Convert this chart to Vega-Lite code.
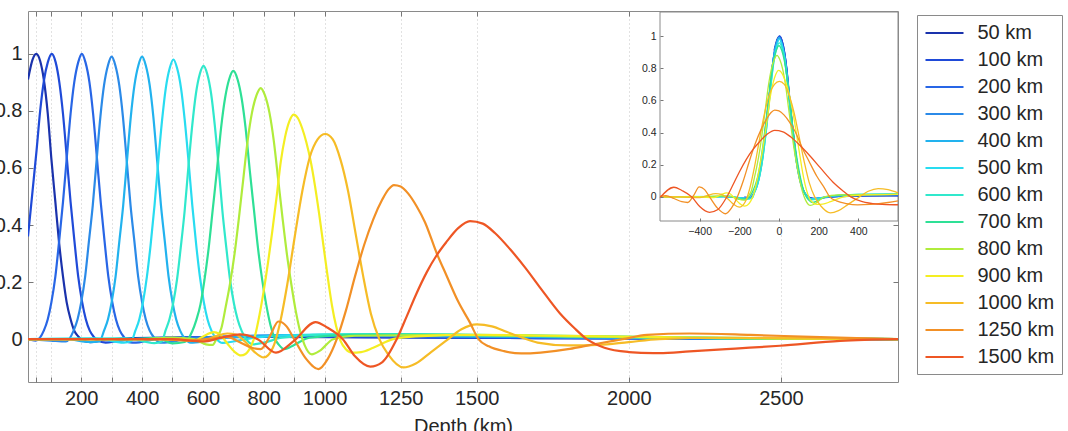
{
  "$schema": "https://vega.github.io/schema/vega-lite/v6.json",
  "width": 870,
  "height": 371,
  "autosize": {"type": "none"},
  "padding": {"left": 28, "top": 11, "right": 170, "bottom": 49},
  "background": "white",
  "config": {
    "view": {"stroke": "#8a8a8a", "strokeWidth": 1},
    "font": "Liberation Sans"
  },
  "datasets": {
    "kern": [
      {"k":"50 km","d":25,"r":-25,"v":0.91},{"k":"50 km","d":40,"r":-10,"v":0.98},{"k":"50 km","d":52,"r":2,"v":1},{"k":"50 km","d":65,"r":15,"v":0.975},{"k":"50 km","d":77,"r":27,"v":0.91},{"k":"50 km","d":90,"r":40,"v":0.79},{"k":"50 km","d":102,"r":52,"v":0.63},{"k":"50 km","d":115,"r":65,"v":0.48},{"k":"50 km","d":127,"r":77,"v":0.34},{"k":"50 km","d":140,"r":90,"v":0.22},{"k":"50 km","d":152,"r":102,"v":0.13},{"k":"50 km","d":165,"r":115,"v":0.07},{"k":"50 km","d":177,"r":127,"v":0.03},{"k":"50 km","d":190,"r":140,"v":0.01},{"k":"50 km","d":205,"r":155,"v":-0.005},{"k":"50 km","d":230,"r":180,"v":-0.01},{"k":"50 km","d":270,"r":220,"v":-0.004},{"k":"50 km","d":350,"r":300,"v":0.003},{"k":"50 km","d":500,"r":450,"v":0.006},{"k":"50 km","d":650,"r":600,"v":0.007},{"k":"50 km","d":800,"r":750,"v":0.008},{"k":"50 km","d":1200,"r":1150,"v":0.006},{"k":"50 km","d":1700,"r":1650,"v":0.004},{"k":"50 km","d":2300,"r":2250,"v":0.002},{"k":"50 km","d":2885,"r":2835,"v":0},

      {"k":"100 km","d":25,"r":-75,"v":0.36},{"k":"100 km","d":40,"r":-60,"v":0.52},{"k":"100 km","d":53,"r":-47,"v":0.66},{"k":"100 km","d":65,"r":-35,"v":0.8},{"k":"100 km","d":78,"r":-22,"v":0.91},{"k":"100 km","d":90,"r":-10,"v":0.97},{"k":"100 km","d":103,"r":3,"v":1},{"k":"100 km","d":116,"r":16,"v":0.97},{"k":"100 km","d":128,"r":28,"v":0.9},{"k":"100 km","d":140,"r":40,"v":0.79},{"k":"100 km","d":153,"r":53,"v":0.63},{"k":"100 km","d":165,"r":65,"v":0.48},{"k":"100 km","d":178,"r":78,"v":0.34},{"k":"100 km","d":190,"r":90,"v":0.22},{"k":"100 km","d":203,"r":103,"v":0.13},{"k":"100 km","d":215,"r":115,"v":0.07},{"k":"100 km","d":228,"r":128,"v":0.03},{"k":"100 km","d":240,"r":140,"v":0.01},{"k":"100 km","d":255,"r":155,"v":-0.005},{"k":"100 km","d":280,"r":180,"v":-0.012},{"k":"100 km","d":320,"r":220,"v":-0.006},{"k":"100 km","d":400,"r":300,"v":0.002},{"k":"100 km","d":550,"r":450,"v":0.006},{"k":"100 km","d":700,"r":600,"v":0.008},{"k":"100 km","d":900,"r":800,"v":0.009},{"k":"100 km","d":1200,"r":1100,"v":0.007},{"k":"100 km","d":1700,"r":1600,"v":0.004},{"k":"100 km","d":2300,"r":2200,"v":0.002},{"k":"100 km","d":2885,"r":2785,"v":0},

      {"k":"200 km","d":25,"r":-175,"v":0},{"k":"200 km","d":50,"r":-150,"v":-0.005},{"k":"200 km","d":77,"r":-123,"v":0.03},{"k":"200 km","d":90,"r":-110,"v":0.07},{"k":"200 km","d":102,"r":-98,"v":0.13},{"k":"200 km","d":115,"r":-85,"v":0.22},{"k":"200 km","d":127,"r":-73,"v":0.34},{"k":"200 km","d":140,"r":-60,"v":0.48},{"k":"200 km","d":152,"r":-48,"v":0.63},{"k":"200 km","d":165,"r":-35,"v":0.79},{"k":"200 km","d":177,"r":-23,"v":0.9},{"k":"200 km","d":190,"r":-10,"v":0.97},{"k":"200 km","d":202,"r":2,"v":1},{"k":"200 km","d":214,"r":14,"v":0.97},{"k":"200 km","d":227,"r":27,"v":0.9},{"k":"200 km","d":239,"r":39,"v":0.79},{"k":"200 km","d":252,"r":52,"v":0.63},{"k":"200 km","d":264,"r":64,"v":0.48},{"k":"200 km","d":277,"r":77,"v":0.34},{"k":"200 km","d":289,"r":89,"v":0.22},{"k":"200 km","d":302,"r":102,"v":0.13},{"k":"200 km","d":314,"r":114,"v":0.07},{"k":"200 km","d":327,"r":127,"v":0.03},{"k":"200 km","d":340,"r":140,"v":0.008},{"k":"200 km","d":355,"r":155,"v":-0.01},{"k":"200 km","d":380,"r":180,"v":-0.012},{"k":"200 km","d":420,"r":220,"v":-0.004},{"k":"200 km","d":500,"r":300,"v":0.004},{"k":"200 km","d":650,"r":450,"v":0.008},{"k":"200 km","d":800,"r":600,"v":0.01},{"k":"200 km","d":1000,"r":800,"v":0.012},{"k":"200 km","d":1400,"r":1200,"v":0.008},{"k":"200 km","d":1900,"r":1700,"v":0.004},{"k":"200 km","d":2400,"r":2200,"v":0.002},{"k":"200 km","d":2885,"r":2685,"v":0},

      {"k":"300 km","d":25,"r":-275,"v":0},{"k":"300 km","d":100,"r":-200,"v":-0.005},{"k":"300 km","d":150,"r":-150,"v":-0.008},{"k":"300 km","d":175,"r":-125,"v":0.03},{"k":"300 km","d":188,"r":-112,"v":0.07},{"k":"300 km","d":200,"r":-100,"v":0.13},{"k":"300 km","d":213,"r":-87,"v":0.22},{"k":"300 km","d":225,"r":-75,"v":0.34},{"k":"300 km","d":238,"r":-62,"v":0.47},{"k":"300 km","d":250,"r":-50,"v":0.62},{"k":"300 km","d":263,"r":-37,"v":0.78},{"k":"300 km","d":275,"r":-25,"v":0.89},{"k":"300 km","d":288,"r":-12,"v":0.96},{"k":"300 km","d":300,"r":0,"v":0.99},{"k":"300 km","d":312,"r":12,"v":0.96},{"k":"300 km","d":325,"r":25,"v":0.89},{"k":"300 km","d":337,"r":37,"v":0.78},{"k":"300 km","d":350,"r":50,"v":0.62},{"k":"300 km","d":362,"r":62,"v":0.47},{"k":"300 km","d":375,"r":75,"v":0.34},{"k":"300 km","d":387,"r":87,"v":0.22},{"k":"300 km","d":400,"r":100,"v":0.13},{"k":"300 km","d":412,"r":112,"v":0.07},{"k":"300 km","d":425,"r":125,"v":0.03},{"k":"300 km","d":440,"r":140,"v":0.005},{"k":"300 km","d":460,"r":160,"v":-0.012},{"k":"300 km","d":490,"r":190,"v":-0.01},{"k":"300 km","d":540,"r":240,"v":0},{"k":"300 km","d":650,"r":350,"v":0.008},{"k":"300 km","d":900,"r":600,"v":0.014},{"k":"300 km","d":1200,"r":900,"v":0.012},{"k":"300 km","d":1600,"r":1300,"v":0.008},{"k":"300 km","d":2100,"r":1800,"v":0.004},{"k":"300 km","d":2885,"r":2585,"v":0},

      {"k":"400 km","d":25,"r":-375,"v":0},{"k":"400 km","d":150,"r":-250,"v":0},{"k":"400 km","d":230,"r":-170,"v":-0.01},{"k":"400 km","d":260,"r":-140,"v":-0.008},{"k":"400 km","d":275,"r":-125,"v":0.03},{"k":"400 km","d":288,"r":-112,"v":0.07},{"k":"400 km","d":300,"r":-100,"v":0.13},{"k":"400 km","d":313,"r":-87,"v":0.22},{"k":"400 km","d":325,"r":-75,"v":0.34},{"k":"400 km","d":338,"r":-62,"v":0.47},{"k":"400 km","d":350,"r":-50,"v":0.62},{"k":"400 km","d":363,"r":-37,"v":0.78},{"k":"400 km","d":375,"r":-25,"v":0.89},{"k":"400 km","d":388,"r":-12,"v":0.96},{"k":"400 km","d":400,"r":0,"v":0.99},{"k":"400 km","d":412,"r":12,"v":0.96},{"k":"400 km","d":425,"r":25,"v":0.89},{"k":"400 km","d":437,"r":37,"v":0.78},{"k":"400 km","d":450,"r":50,"v":0.62},{"k":"400 km","d":462,"r":62,"v":0.47},{"k":"400 km","d":475,"r":75,"v":0.34},{"k":"400 km","d":487,"r":87,"v":0.22},{"k":"400 km","d":500,"r":100,"v":0.13},{"k":"400 km","d":512,"r":112,"v":0.07},{"k":"400 km","d":525,"r":125,"v":0.03},{"k":"400 km","d":540,"r":140,"v":0.003},{"k":"400 km","d":560,"r":160,"v":-0.012},{"k":"400 km","d":600,"r":200,"v":-0.008},{"k":"400 km","d":650,"r":250,"v":0.002},{"k":"400 km","d":750,"r":350,"v":0.01},{"k":"400 km","d":1000,"r":600,"v":0.015},{"k":"400 km","d":1300,"r":900,"v":0.012},{"k":"400 km","d":1700,"r":1300,"v":0.008},{"k":"400 km","d":2200,"r":1800,"v":0.004},{"k":"400 km","d":2885,"r":2485,"v":0},

      {"k":"500 km","d":25,"r":-475,"v":0},{"k":"500 km","d":250,"r":-250,"v":0.002},{"k":"500 km","d":340,"r":-160,"v":-0.012},{"k":"500 km","d":365,"r":-135,"v":-0.006},{"k":"500 km","d":378,"r":-122,"v":0.03},{"k":"500 km","d":391,"r":-109,"v":0.07},{"k":"500 km","d":403,"r":-97,"v":0.13},{"k":"500 km","d":416,"r":-84,"v":0.22},{"k":"500 km","d":428,"r":-72,"v":0.33},{"k":"500 km","d":441,"r":-59,"v":0.47},{"k":"500 km","d":453,"r":-47,"v":0.62},{"k":"500 km","d":466,"r":-34,"v":0.77},{"k":"500 km","d":478,"r":-22,"v":0.88},{"k":"500 km","d":491,"r":-9,"v":0.95},{"k":"500 km","d":503,"r":3,"v":0.98},{"k":"500 km","d":515,"r":15,"v":0.95},{"k":"500 km","d":528,"r":28,"v":0.88},{"k":"500 km","d":540,"r":40,"v":0.77},{"k":"500 km","d":553,"r":53,"v":0.62},{"k":"500 km","d":565,"r":65,"v":0.47},{"k":"500 km","d":578,"r":78,"v":0.33},{"k":"500 km","d":590,"r":90,"v":0.22},{"k":"500 km","d":603,"r":103,"v":0.13},{"k":"500 km","d":615,"r":115,"v":0.07},{"k":"500 km","d":628,"r":128,"v":0.03},{"k":"500 km","d":643,"r":143,"v":0.003},{"k":"500 km","d":665,"r":165,"v":-0.013},{"k":"500 km","d":700,"r":200,"v":-0.008},{"k":"500 km","d":760,"r":260,"v":0.004},{"k":"500 km","d":900,"r":400,"v":0.014},{"k":"500 km","d":1100,"r":600,"v":0.017},{"k":"500 km","d":1400,"r":900,"v":0.015},{"k":"500 km","d":1800,"r":1300,"v":0.01},{"k":"500 km","d":2300,"r":1800,"v":0.004},{"k":"500 km","d":2885,"r":2385,"v":0},

      {"k":"600 km","d":25,"r":-575,"v":0},{"k":"600 km","d":350,"r":-250,"v":0.003},{"k":"600 km","d":440,"r":-160,"v":-0.014},{"k":"600 km","d":465,"r":-135,"v":-0.008},{"k":"600 km","d":477,"r":-123,"v":0.03},{"k":"600 km","d":490,"r":-110,"v":0.07},{"k":"600 km","d":502,"r":-98,"v":0.125},{"k":"600 km","d":515,"r":-85,"v":0.21},{"k":"600 km","d":527,"r":-73,"v":0.32},{"k":"600 km","d":540,"r":-60,"v":0.45},{"k":"600 km","d":552,"r":-48,"v":0.6},{"k":"600 km","d":565,"r":-35,"v":0.75},{"k":"600 km","d":577,"r":-23,"v":0.86},{"k":"600 km","d":590,"r":-10,"v":0.93},{"k":"600 km","d":602,"r":2,"v":0.958},{"k":"600 km","d":614,"r":14,"v":0.93},{"k":"600 km","d":627,"r":27,"v":0.86},{"k":"600 km","d":639,"r":39,"v":0.75},{"k":"600 km","d":652,"r":52,"v":0.6},{"k":"600 km","d":664,"r":64,"v":0.45},{"k":"600 km","d":677,"r":77,"v":0.32},{"k":"600 km","d":689,"r":89,"v":0.21},{"k":"600 km","d":702,"r":102,"v":0.125},{"k":"600 km","d":714,"r":114,"v":0.07},{"k":"600 km","d":727,"r":127,"v":0.03},{"k":"600 km","d":742,"r":142,"v":0},{"k":"600 km","d":765,"r":165,"v":-0.018},{"k":"600 km","d":800,"r":200,"v":-0.012},{"k":"600 km","d":860,"r":260,"v":0.005},{"k":"600 km","d":1000,"r":400,"v":0.016},{"k":"600 km","d":1200,"r":600,"v":0.018},{"k":"600 km","d":1500,"r":900,"v":0.015},{"k":"600 km","d":1900,"r":1300,"v":0.01},{"k":"600 km","d":2400,"r":1800,"v":0.004},{"k":"600 km","d":2885,"r":2285,"v":0},

      {"k":"700 km","d":25,"r":-675,"v":0},{"k":"700 km","d":100,"r":-600,"v":0},{"k":"700 km","d":350,"r":-350,"v":0},{"k":"700 km","d":450,"r":-250,"v":0.005},{"k":"700 km","d":500,"r":-200,"v":-0.015},{"k":"700 km","d":540,"r":-160,"v":-0.01},{"k":"700 km","d":565,"r":-135,"v":0.028},{"k":"700 km","d":578,"r":-122,"v":0.066},{"k":"700 km","d":592,"r":-108,"v":0.122},{"k":"700 km","d":605,"r":-95,"v":0.207},{"k":"700 km","d":619,"r":-81,"v":0.32},{"k":"700 km","d":632,"r":-68,"v":0.451},{"k":"700 km","d":646,"r":-54,"v":0.592},{"k":"700 km","d":660,"r":-40,"v":0.743},{"k":"700 km","d":673,"r":-27,"v":0.846},{"k":"700 km","d":686,"r":-14,"v":0.91},{"k":"700 km","d":700,"r":0,"v":0.94},{"k":"700 km","d":714,"r":14,"v":0.91},{"k":"700 km","d":727,"r":27,"v":0.846},{"k":"700 km","d":740,"r":40,"v":0.743},{"k":"700 km","d":754,"r":54,"v":0.592},{"k":"700 km","d":768,"r":68,"v":0.451},{"k":"700 km","d":781,"r":81,"v":0.32},{"k":"700 km","d":795,"r":95,"v":0.207},{"k":"700 km","d":808,"r":108,"v":0.122},{"k":"700 km","d":822,"r":122,"v":0.05},{"k":"700 km","d":835,"r":135,"v":0.005},{"k":"700 km","d":850,"r":150,"v":-0.02},{"k":"700 km","d":868,"r":168,"v":-0.035},{"k":"700 km","d":900,"r":200,"v":-0.02},{"k":"700 km","d":950,"r":250,"v":0.005},{"k":"700 km","d":1100,"r":400,"v":0.015},{"k":"700 km","d":1300,"r":600,"v":0.016},{"k":"700 km","d":1800,"r":1100,"v":0.01},{"k":"700 km","d":2300,"r":1600,"v":0.004},{"k":"700 km","d":2885,"r":2185,"v":0},

      {"k":"800 km","d":25,"r":-775,"v":0},{"k":"800 km","d":200,"r":-600,"v":0},{"k":"800 km","d":400,"r":-400,"v":0},{"k":"800 km","d":500,"r":-300,"v":0.006},{"k":"800 km","d":570,"r":-230,"v":0},{"k":"800 km","d":610,"r":-190,"v":-0.018},{"k":"800 km","d":632,"r":-168,"v":-0.02},{"k":"800 km","d":646,"r":-154,"v":0.005},{"k":"800 km","d":661,"r":-139,"v":0.04},{"k":"800 km","d":675,"r":-125,"v":0.114},{"k":"800 km","d":689,"r":-111,"v":0.194},{"k":"800 km","d":704,"r":-96,"v":0.299},{"k":"800 km","d":718,"r":-82,"v":0.422},{"k":"800 km","d":732,"r":-68,"v":0.554},{"k":"800 km","d":747,"r":-53,"v":0.695},{"k":"800 km","d":761,"r":-39,"v":0.792},{"k":"800 km","d":776,"r":-24,"v":0.854},{"k":"800 km","d":790,"r":-10,"v":0.88},{"k":"800 km","d":804,"r":4,"v":0.854},{"k":"800 km","d":819,"r":19,"v":0.792},{"k":"800 km","d":833,"r":33,"v":0.695},{"k":"800 km","d":848,"r":48,"v":0.554},{"k":"800 km","d":862,"r":62,"v":0.422},{"k":"800 km","d":876,"r":76,"v":0.299},{"k":"800 km","d":891,"r":91,"v":0.19},{"k":"800 km","d":905,"r":105,"v":0.1},{"k":"800 km","d":919,"r":119,"v":0.03},{"k":"800 km","d":934,"r":134,"v":-0.02},{"k":"800 km","d":958,"r":158,"v":-0.053},{"k":"800 km","d":985,"r":185,"v":-0.04},{"k":"800 km","d":1028,"r":228,"v":0},{"k":"800 km","d":1100,"r":300,"v":0.012},{"k":"800 km","d":1400,"r":600,"v":0.015},{"k":"800 km","d":1800,"r":1000,"v":0.01},{"k":"800 km","d":2300,"r":1500,"v":0.004},{"k":"800 km","d":2885,"r":2085,"v":0},

      {"k":"900 km","d":25,"r":-875,"v":0},{"k":"900 km","d":300,"r":-600,"v":0},{"k":"900 km","d":500,"r":-400,"v":0},{"k":"900 km","d":570,"r":-330,"v":-0.005},{"k":"900 km","d":610,"r":-290,"v":0.015},{"k":"900 km","d":635,"r":-265,"v":0.025},{"k":"900 km","d":655,"r":-245,"v":0.018},{"k":"900 km","d":680,"r":-220,"v":-0.015},{"k":"900 km","d":705,"r":-195,"v":-0.045},{"k":"900 km","d":725,"r":-175,"v":-0.057},{"k":"900 km","d":740,"r":-160,"v":-0.052},{"k":"900 km","d":758,"r":-142,"v":-0.025},{"k":"900 km","d":772,"r":-128,"v":0.015},{"k":"900 km","d":786,"r":-114,"v":0.085},{"k":"900 km","d":800,"r":-100,"v":0.17},{"k":"900 km","d":814,"r":-86,"v":0.268},{"k":"900 km","d":828,"r":-72,"v":0.378},{"k":"900 km","d":842,"r":-58,"v":0.496},{"k":"900 km","d":856,"r":-44,"v":0.622},{"k":"900 km","d":870,"r":-30,"v":0.708},{"k":"900 km","d":884,"r":-16,"v":0.763},{"k":"900 km","d":898,"r":-2,"v":0.787},{"k":"900 km","d":912,"r":12,"v":0.775},{"k":"900 km","d":926,"r":26,"v":0.74},{"k":"900 km","d":940,"r":40,"v":0.69},{"k":"900 km","d":954,"r":54,"v":0.625},{"k":"900 km","d":968,"r":68,"v":0.54},{"k":"900 km","d":982,"r":82,"v":0.44},{"k":"900 km","d":996,"r":96,"v":0.33},{"k":"900 km","d":1010,"r":110,"v":0.22},{"k":"900 km","d":1024,"r":124,"v":0.12},{"k":"900 km","d":1038,"r":138,"v":0.045},{"k":"900 km","d":1052,"r":152,"v":-0.005},{"k":"900 km","d":1070,"r":170,"v":-0.035},{"k":"900 km","d":1090,"r":190,"v":-0.047},{"k":"900 km","d":1120,"r":220,"v":-0.045},{"k":"900 km","d":1160,"r":260,"v":-0.03},{"k":"900 km","d":1225,"r":325,"v":0},{"k":"900 km","d":1300,"r":400,"v":0.01},{"k":"900 km","d":1500,"r":600,"v":0.015},{"k":"900 km","d":1800,"r":900,"v":0.012},{"k":"900 km","d":2200,"r":1300,"v":0.006},{"k":"900 km","d":2885,"r":1985,"v":0},

      {"k":"1000 km","d":25,"r":-975,"v":0},{"k":"1000 km","d":400,"r":-600,"v":0},{"k":"1000 km","d":500,"r":-500,"v":0},{"k":"1000 km","d":600,"r":-400,"v":-0.005},{"k":"1000 km","d":640,"r":-360,"v":0.01},{"k":"1000 km","d":680,"r":-320,"v":0.02},{"k":"1000 km","d":710,"r":-290,"v":0.015},{"k":"1000 km","d":740,"r":-260,"v":-0.01},{"k":"1000 km","d":770,"r":-230,"v":-0.045},{"k":"1000 km","d":800,"r":-200,"v":-0.064},{"k":"1000 km","d":830,"r":-170,"v":-0.03},{"k":"1000 km","d":852,"r":-148,"v":0.05},{"k":"1000 km","d":877,"r":-123,"v":0.19},{"k":"1000 km","d":902,"r":-98,"v":0.36},{"k":"1000 km","d":927,"r":-73,"v":0.52},{"k":"1000 km","d":952,"r":-48,"v":0.64},{"k":"1000 km","d":977,"r":-23,"v":0.7},{"k":"1000 km","d":1002,"r":2,"v":0.719},{"k":"1000 km","d":1027,"r":27,"v":0.7},{"k":"1000 km","d":1052,"r":52,"v":0.63},{"k":"1000 km","d":1077,"r":77,"v":0.52},{"k":"1000 km","d":1102,"r":102,"v":0.37},{"k":"1000 km","d":1127,"r":127,"v":0.22},{"k":"1000 km","d":1152,"r":152,"v":0.09},{"k":"1000 km","d":1180,"r":180,"v":0},{"k":"1000 km","d":1210,"r":210,"v":-0.055},{"k":"1000 km","d":1259,"r":259,"v":-0.099},{"k":"1000 km","d":1300,"r":300,"v":-0.085},{"k":"1000 km","d":1350,"r":350,"v":-0.045},{"k":"1000 km","d":1400,"r":400,"v":-0.005},{"k":"1000 km","d":1450,"r":450,"v":0.035},{"k":"1000 km","d":1500,"r":500,"v":0.052},{"k":"1000 km","d":1550,"r":550,"v":0.045},{"k":"1000 km","d":1600,"r":600,"v":0.025},{"k":"1000 km","d":1650,"r":650,"v":0.005},{"k":"1000 km","d":1700,"r":700,"v":-0.012},{"k":"1000 km","d":1800,"r":800,"v":-0.022},{"k":"1000 km","d":1900,"r":900,"v":-0.02},{"k":"1000 km","d":2000,"r":1000,"v":-0.01},{"k":"1000 km","d":2100,"r":1100,"v":0},{"k":"1000 km","d":2300,"r":1300,"v":0.005},{"k":"1000 km","d":2600,"r":1600,"v":0.003},{"k":"1000 km","d":2885,"r":1885,"v":0},

      {"k":"1250 km","d":25,"r":-1225,"v":0},{"k":"1250 km","d":450,"r":-800,"v":0},{"k":"1250 km","d":550,"r":-700,"v":-0.005},{"k":"1250 km","d":650,"r":-600,"v":0.005},{"k":"1250 km","d":680,"r":-570,"v":0.008},{"k":"1250 km","d":720,"r":-530,"v":-0.01},{"k":"1250 km","d":760,"r":-490,"v":-0.03},{"k":"1250 km","d":790,"r":-460,"v":-0.035},{"k":"1250 km","d":820,"r":-430,"v":0.01},{"k":"1250 km","d":848,"r":-402,"v":0.062},{"k":"1250 km","d":875,"r":-375,"v":0.045},{"k":"1250 km","d":900,"r":-350,"v":0},{"k":"1250 km","d":940,"r":-310,"v":-0.07},{"k":"1250 km","d":980,"r":-270,"v":-0.105},{"k":"1250 km","d":1010,"r":-240,"v":-0.07},{"k":"1250 km","d":1040,"r":-210,"v":0},{"k":"1250 km","d":1070,"r":-180,"v":0.1},{"k":"1250 km","d":1100,"r":-150,"v":0.22},{"k":"1250 km","d":1130,"r":-120,"v":0.33},{"k":"1250 km","d":1160,"r":-90,"v":0.42},{"k":"1250 km","d":1190,"r":-60,"v":0.49},{"k":"1250 km","d":1210,"r":-40,"v":0.525},{"k":"1250 km","d":1228,"r":-22,"v":0.54},{"k":"1250 km","d":1250,"r":0,"v":0.535},{"k":"1250 km","d":1275,"r":25,"v":0.51},{"k":"1250 km","d":1303,"r":53,"v":0.465},{"k":"1250 km","d":1330,"r":80,"v":0.41},{"k":"1250 km","d":1369,"r":119,"v":0.3},{"k":"1250 km","d":1400,"r":150,"v":0.225},{"k":"1250 km","d":1440,"r":190,"v":0.13},{"k":"1250 km","d":1478,"r":228,"v":0.058},{"k":"1250 km","d":1506,"r":256,"v":0},{"k":"1250 km","d":1540,"r":290,"v":-0.025},{"k":"1250 km","d":1590,"r":340,"v":-0.042},{"k":"1250 km","d":1646,"r":396,"v":-0.05},{"k":"1250 km","d":1710,"r":460,"v":-0.047},{"k":"1250 km","d":1800,"r":550,"v":-0.035},{"k":"1250 km","d":1850,"r":600,"v":-0.025},{"k":"1250 km","d":1900,"r":650,"v":-0.015},{"k":"1250 km","d":1980,"r":730,"v":0},{"k":"1250 km","d":2060,"r":810,"v":0.015},{"k":"1250 km","d":2200,"r":950,"v":0.02},{"k":"1250 km","d":2400,"r":1150,"v":0.015},{"k":"1250 km","d":2600,"r":1350,"v":0.008},{"k":"1250 km","d":2885,"r":1635,"v":0},

      {"k":"1500 km","d":25,"r":-1475,"v":0},{"k":"1500 km","d":500,"r":-1000,"v":0},{"k":"1500 km","d":600,"r":-900,"v":-0.008},{"k":"1500 km","d":660,"r":-840,"v":0.005},{"k":"1500 km","d":722,"r":-778,"v":0.017},{"k":"1500 km","d":780,"r":-720,"v":0},{"k":"1500 km","d":840,"r":-660,"v":-0.047},{"k":"1500 km","d":900,"r":-600,"v":-0.005},{"k":"1500 km","d":970,"r":-530,"v":0.06},{"k":"1500 km","d":1010,"r":-490,"v":0.04},{"k":"1500 km","d":1060,"r":-440,"v":0},{"k":"1500 km","d":1100,"r":-400,"v":-0.06},{"k":"1500 km","d":1150,"r":-350,"v":-0.096},{"k":"1500 km","d":1190,"r":-310,"v":-0.08},{"k":"1500 km","d":1237,"r":-263,"v":0},{"k":"1500 km","d":1270,"r":-230,"v":0.08},{"k":"1500 km","d":1300,"r":-200,"v":0.155},{"k":"1500 km","d":1336,"r":-164,"v":0.235},{"k":"1500 km","d":1369,"r":-131,"v":0.295},{"k":"1500 km","d":1400,"r":-100,"v":0.34},{"k":"1500 km","d":1440,"r":-60,"v":0.39},{"k":"1500 km","d":1478,"r":-22,"v":0.414},{"k":"1500 km","d":1520,"r":20,"v":0.405},{"k":"1500 km","d":1560,"r":60,"v":0.372},{"k":"1500 km","d":1610,"r":110,"v":0.315},{"k":"1500 km","d":1660,"r":160,"v":0.25},{"k":"1500 km","d":1709,"r":209,"v":0.18},{"k":"1500 km","d":1774,"r":274,"v":0.09},{"k":"1500 km","d":1820,"r":320,"v":0.04},{"k":"1500 km","d":1862,"r":362,"v":0},{"k":"1500 km","d":1920,"r":420,"v":-0.03},{"k":"1500 km","d":2000,"r":500,"v":-0.045},{"k":"1500 km","d":2081,"r":581,"v":-0.049},{"k":"1500 km","d":2100,"r":600,"v":-0.049},{"k":"1500 km","d":2200,"r":700,"v":-0.043},{"k":"1500 km","d":2350,"r":850,"v":-0.033},{"k":"1500 km","d":2497,"r":997,"v":-0.023},{"k":"1500 km","d":2695,"r":1195,"v":-0.006},{"k":"1500 km","d":2885,"r":1385,"v":0}
    ]
  },
  "data": {"name": "kern"},
  "resolve": {"scale": {"x": "independent", "y": "independent"}},
  "layer": [
    {
      "resolve": {"axis": {"x": "independent", "y": "independent"}},
      "layer": [
        {
          "mark": {"type": "line", "interpolate": "monotone", "strokeWidth": 2.2, "clip": true},
          "encoding": {
            "x": {
              "field": "d", "type": "quantitative",
              "scale": {"domain": [25, 2885], "nice": false, "zero": false},
              "axis": {
                "orient": "bottom",
                "values": [50, 100, 200, 300, 400, 500, 600, 700, 800, 900, 1000, 1250, 1500, 2000, 2500],
                "format": "d",
                "labelExpr": "indexof([200,400,600,800,1000,1250,1500,2000,2500], datum.value) >= 0 ? datum.label : ''",
                "grid": true, "gridColor": "#c4c4c4", "gridDash": [1, 3], "gridWidth": 1,
                "domain": false, "ticks": true, "tickSize": -5, "tickColor": "#777777",
                "labelFont": "Liberation Sans", "labelFontSize": 20, "labelColor": "#262626",
                "labelPadding": 11, "labelOverlap": false, "labelFlush": false,
                "title": "Depth (km)", "titleFont": "Liberation Sans", "titleFontSize": 20,
                "titleFontWeight": "normal", "titleColor": "#262626",
                "titleY": 50, "titleBaseline": "alphabetic", "zindex": 0
              }
            },
            "y": {
              "field": "v", "type": "quantitative",
              "scale": {"domain": [-0.15, 1.15], "nice": false, "zero": false},
              "axis": {
                "orient": "left",
                "values": [0, 0.2, 0.4, 0.6, 0.8, 1],
                "format": "~g",
                "grid": false, "domain": false, "ticks": true, "tickSize": -5, "tickColor": "#777777",
                "labelFont": "Liberation Sans", "labelFontSize": 20, "labelColor": "#262626",
                "labelPadding": 11, "labelOverlap": false, "labelFlush": false,
                "title": null, "zindex": 0
              }
            },
            "color": {
              "field": "k", "type": "nominal",
              "scale": {
                "domain": ["50 km", "100 km", "200 km", "300 km", "400 km", "500 km", "600 km", "700 km", "800 km", "900 km", "1000 km", "1250 km", "1500 km"],
                "range": ["#1a32ac", "#1f4ad8", "#2866e6", "#2b8ae8", "#22b2ee", "#28dcf0", "#30e8cc", "#2ee096", "#b0ec3c", "#f4ee22", "#f6bc26", "#f29026", "#ee5624"]
              },
              "legend": {
                "orient": "none", "legendX": 889, "legendY": 4, "title": null,
                "symbolType": "M-2,0H2", "symbolSize": 361, "symbolStrokeWidth": 2.2,
                "symbolOffset": 9.5, "labelOffset": 22,
                "labelFont": "Liberation Sans", "labelFontSize": 20, "labelColor": "#262626", "labelLimit": 0,
                "rowPadding": 6, "padding": 7,
                "strokeColor": "#8a8a8a", "fillColor": "white"
              }
            }
          }
        },
        {
          "mark": {"type": "line", "opacity": 0},
          "encoding": {
            "x": {
              "field": "d", "type": "quantitative",
              "scale": {"domain": [25, 2885], "nice": false, "zero": false},
              "axis": {
                "orient": "top",
                "values": [50, 100, 200, 300, 400, 500, 600, 700, 800, 900, 1000, 1250, 1500, 2000, 2500],
                "labels": false, "grid": false, "domain": false,
                "ticks": true, "tickSize": -5, "tickColor": "#777777", "title": null
              }
            },
            "y": {
              "field": "v", "type": "quantitative",
              "scale": {"domain": [-0.15, 1.15], "nice": false, "zero": false},
              "axis": {
                "orient": "right",
                "values": [0, 0.2, 0.4, 0.6, 0.8, 1],
                "labels": false, "grid": false, "domain": false,
                "ticks": true, "tickSize": -5, "tickColor": "#777777", "title": null
              }
            },
            "detail": {"field": "k", "type": "nominal"}
          }
        }
      ]
    },
    {
      "layer": [
        {
          "data": {"values": [{}]},
          "mark": {"type": "rect", "fill": "white", "stroke": "#8a8a8a", "strokeWidth": 1},
          "encoding": {
            "x": {
              "datum": -600, "type": "quantitative",
              "scale": {"domain": [-600, 600], "range": [632, 870], "nice": false, "zero": false},
              "axis": {
                "orient": "bottom", "offset": -161,
                "values": [-400, -200, 0, 200, 400], "format": "d",
                "grid": false, "domain": false, "ticks": true, "tickSize": -3, "tickColor": "#777777",
                "labelFont": "Liberation Sans", "labelFontSize": 10.5, "labelColor": "#262626",
                "labelPadding": 8, "labelOverlap": false, "labelFlush": false,
                "title": null, "zindex": 1
              }
            },
            "x2": {"datum": 600},
            "y": {
              "datum": -0.15, "type": "quantitative",
              "scale": {"domain": [-0.15, 1.15], "range": [210, 1], "nice": false, "zero": false},
              "axis": {
                "orient": "left", "offset": -632,
                "values": [0, 0.2, 0.4, 0.6, 0.8, 1], "format": "~g",
                "grid": false, "domain": false, "ticks": true, "tickSize": -3, "tickColor": "#777777",
                "labelFont": "Liberation Sans", "labelFontSize": 10.5, "labelColor": "#262626",
                "labelPadding": 7, "labelOverlap": false, "labelFlush": false,
                "title": null, "zindex": 1
              }
            },
            "y2": {"datum": 1.15}
          }
        },
        {
          "transform": [{"filter": "datum.r >= -600 && datum.r <= 600"}],
          "mark": {"type": "line", "interpolate": "monotone", "strokeWidth": 1.3},
          "encoding": {
            "x": {
              "field": "r", "type": "quantitative",
              "scale": {"domain": [-600, 600], "range": [632, 870], "nice": false, "zero": false},
              "axis": {
                "orient": "bottom", "offset": -161,
                "values": [-400, -200, 0, 200, 400], "format": "d",
                "grid": false, "domain": false, "ticks": true, "tickSize": -3, "tickColor": "#777777",
                "labelFont": "Liberation Sans", "labelFontSize": 10.5, "labelColor": "#262626",
                "labelPadding": 8, "labelOverlap": false, "labelFlush": false,
                "title": null, "zindex": 1
              }
            },
            "y": {
              "field": "v", "type": "quantitative",
              "scale": {"domain": [-0.15, 1.15], "range": [210, 1], "nice": false, "zero": false},
              "axis": {
                "orient": "left", "offset": -632,
                "values": [0, 0.2, 0.4, 0.6, 0.8, 1], "format": "~g",
                "grid": false, "domain": false, "ticks": true, "tickSize": -3, "tickColor": "#777777",
                "labelFont": "Liberation Sans", "labelFontSize": 10.5, "labelColor": "#262626",
                "labelPadding": 7, "labelOverlap": false, "labelFlush": false,
                "title": null, "zindex": 1
              }
            },
            "color": {
              "field": "k", "type": "nominal",
              "scale": {
                "domain": ["50 km", "100 km", "200 km", "300 km", "400 km", "500 km", "600 km", "700 km", "800 km", "900 km", "1000 km", "1250 km", "1500 km"],
                "range": ["#1a32ac", "#1f4ad8", "#2866e6", "#2b8ae8", "#22b2ee", "#28dcf0", "#30e8cc", "#2ee096", "#b0ec3c", "#f4ee22", "#f6bc26", "#f29026", "#ee5624"]
              },
              "legend": {
                "orient": "none", "legendX": 889, "legendY": 4, "title": null,
                "symbolType": "M-2,0H2", "symbolSize": 361, "symbolStrokeWidth": 2.2,
                "symbolOffset": 9.5, "labelOffset": 22,
                "labelFont": "Liberation Sans", "labelFontSize": 20, "labelColor": "#262626", "labelLimit": 0,
                "rowPadding": 6, "padding": 7,
                "strokeColor": "#8a8a8a", "fillColor": "white"
              }
            }
          }
        }
      ]
    }
  ]
}
